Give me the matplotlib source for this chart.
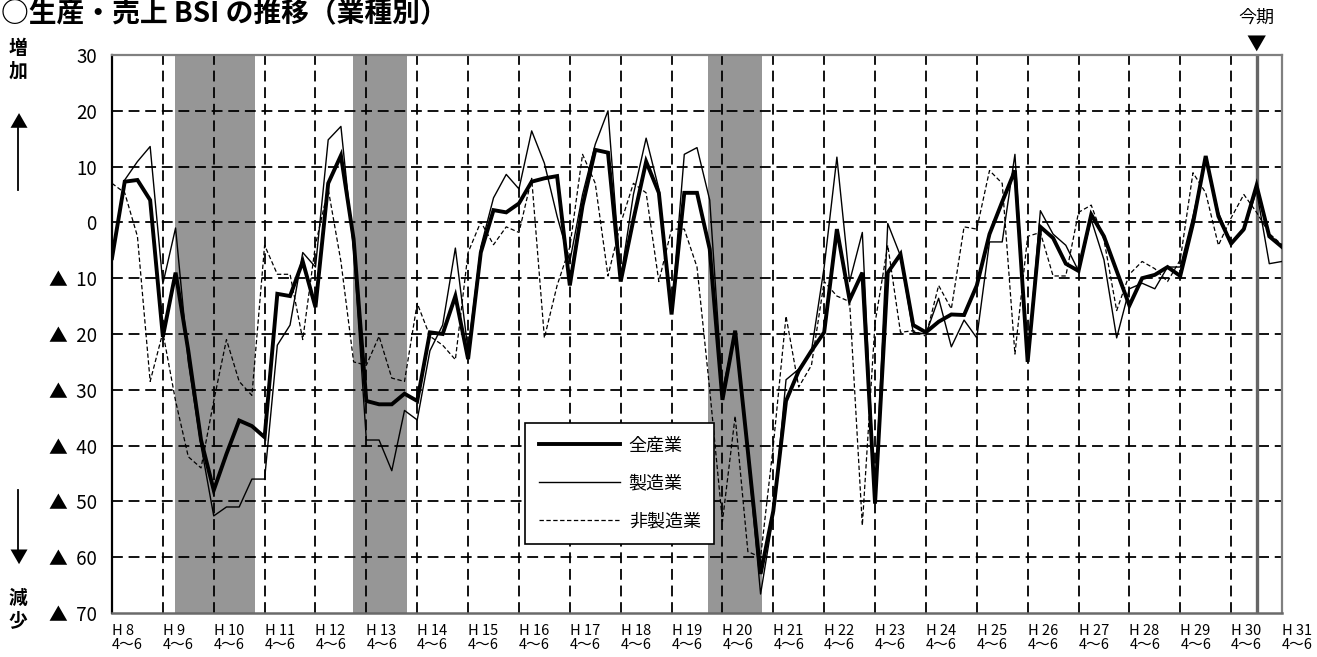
import matplotlib
matplotlib.use("Agg")
import matplotlib.pyplot as plt
from matplotlib.lines import Line2D

plt.rcParams['font.family'] = ['Noto Sans CJK JP', 'DejaVu Sans']

# ---- data -------------------------------------------------------------
years = ["8", "9", "10", "11", "12", "13", "14", "15", "16", "17", "18", "19",
         "20", "21", "22", "23", "24", "25", "26", "27", "28", "29", "30", "31"]
xtick_labels = [("H " + y) + "\n4～6" for y in years]

all_industry = [-6.4, 7.3, 7.6, 4.0, -20.5, -9, -23, -39, -48, -41.5,
                -35.5, -36.5, -38.5, -12.8, -13.2, -7, -15.2, 7, 12, -3,
                -32, -32.6, -32.6, -30.7, -32, -19.7, -20, -13.2, -24.5, -5.4,
                2.2, 1.8, 3.4, 7.3, 7.9, 8.3, -11.3, 3, 13, 12.5,
                -10.6, 0.5, 10.9, 5.3, -16.5, 5.3, 5.3, -4.8, -31.8, -19.4,
                -41, -63, -51.7, -32, -26.6, -23, -19.7, -1.2, -13.9, -9,
                -50.4, -9, -5.7, -18.4, -19.7, -17.8, -16.5, -16.6, -11.3, -2.1,
                3.7, 9.3, -25, -0.8, -2.8, -7.4, -8.7, 1.4, -2.5, -8.7,
                -14.9, -10, -9.4, -8, -9.6, -0.2, 11.9, 1.1, -3.8, -1.2,
                6.6, -2.5, -4.4]

manufacturing = [-6, 7.6, 10.9, 13.6, -11, -1, -25, -40, -52.6, -51,
                 -51, -46, -46, -22, -18.4, -5.4, -8, 14.8, 17.2, -5,
                 -39, -39, -44.5, -33.7, -35.4, -23, -18.4, -4.6, -23, -4.4,
                 4.4, 8.6, 6, 16.4, 10.6, 1.1, -7, 5, 14, 20,
                 -10, 5, 15.1, 6, -16, 12.2, 13.4, 4, -30, -20,
                 -41.6, -66.6, -52.6, -28.2, -26.3, -23, -8, 11.7, -10.6, -1.8,
                 -50, -0.2, -6, -19.7, -20, -13.6, -22.3, -17.5, -20.7, -3.5,
                 -3.5, 12.2, -25, 2.1, -2.1, -4.1, -8.7, 0.5, -6.7, -20.7,
                 -11.9, -10.9, -11.9, -8, -8, 1.1, 11.2, 1.8, -3.8, -1.5,
                 5.7, -7.4, -7]

non_manufacturing = [7, 5.3, -2.5, -28.5, -19.7, -32, -42, -44, -32, -21,
                     -28.5, -31, -4.1, -9.3, -9.3, -21, -4, 6, -7, -25,
                     -25.6, -20.4, -27.9, -28.5, -14.5, -20.4, -22, -24.6, -5.4, 0.1,
                     -4, -0.8, -1.8, 7.9, -20.7, -11.3, -4.4, 12.2, 7, -9.6,
                     -0.2, 7, 5.3, -10.6, -1.2, -1.2, -8, -30, -53.6, -34.7,
                     -59, -60, -40, -16.8, -29.5, -25.6, -10.6, -13.2, -14.2, -54.3,
                     -18, -4.1, -19.7, -19.4, -20.4, -11.3, -15.5, -0.8, -1.2, 9.3,
                     7, -23.6, -2.5, -1.8, -9.6, -9.6, 1.8, 3.1, -3.1, -15.8,
                     -9.3, -7, -8.3, -10.6, -6.7, 8.9, 5.3, -4.1, 0.8, 5,
                     1.8, -2, -4]

series_names = ["全産業", "製造業", "非製造業"]
ytick_values = [30, 20, 10, 0, -10, -20, -30, -40, -50, -60, -70]
ytick_labels = ["30", "20", "10", "0", "▲  10", "▲  20", "▲  30", "▲  40",
                "▲  50", "▲  60", "▲  70"]
recessions = [(4.95, 11.25), (18.95, 23.2), (46.85, 51.1)]
current_period = 90

# ---- figure -----------------------------------------------------------
W, H = 1317, 657
fig = plt.figure(figsize=(W / 100, H / 100), dpi=100)
L, R, T, B = 112, 1282, 55, 613
ax = fig.add_axes([L / W, 1 - B / H, (R - L) / W, (B - T) / H])

n = len(all_industry)
x = list(range(n))

for a, b in recessions:
    ax.axvspan(a, b, color='#969696', lw=0, zorder=0)

# grid
for v in ytick_values[:-1]:
    ax.axhline(v, color='black', lw=1.3, ls=(0, (6, 3.2)), zorder=1)
for i in range(4, n - 1, 4):
    ax.axvline(i, color='black', lw=1.3, ls=(0, (6, 3.2)), zorder=1)

ax.axvline(current_period, color='#666666', lw=2.4, zorder=2)

l1, = ax.plot(x, all_industry, color='black', lw=2.8, zorder=5,
              solid_joinstyle='miter')
l2, = ax.plot(x, manufacturing, color='black', lw=1.0, zorder=4)
l3, = ax.plot(x, non_manufacturing, color='black', lw=0.9,
              ls=(0, (3.5, 2)), zorder=3)

ax.set_xlim(0, n - 1)
ax.set_ylim(-70, 30)

ax.set_yticks(ytick_values)
ax.set_yticklabels(ytick_labels, fontsize=13.5)
ax.set_xticks(range(0, n, 4))
ax.set_xticklabels(xtick_labels, fontsize=10.5, ha='left', linespacing=0.95)
ax.tick_params(axis='y', length=0, pad=11)
ax.tick_params(axis='x', length=0, pad=8)

for s in ['top', 'right']:
    ax.spines[s].set_color('#808080')
    ax.spines[s].set_linewidth(1.6)
ax.spines['bottom'].set_color('#6a6a6a')
ax.spines['bottom'].set_linewidth(1.8)
ax.spines['left'].set_color('black')
ax.spines['left'].set_linewidth(1.6)

leg = ax.legend([l1, l2, l3], series_names, loc='upper left',
                bbox_to_anchor=((525 - L) / (R - L), (B - 423) / (B - T)),
                fontsize=13, frameon=True, fancybox=False, edgecolor='black',
                framealpha=1, handlelength=4.5, handletextpad=0.5,
                labelspacing=1.1, borderpad=0.75, borderaxespad=0)
leg.get_frame().set_linewidth(1.2)
leg.set_zorder(10)

# current period marker
ax.text(current_period, 31.9, "▼", ha='center', va='center', fontsize=14,
        clip_on=False)
ax.text(current_period, 36.6, "今期", ha='center', va='center', fontsize=13,
        clip_on=False)

# title
fig.text(1 / W, 1 - 14 / H, "○生産・売上 BSI の推移（業種別）",
         fontsize=20, weight='bold', ha='left', va='center')

# left side labels
for ch, yy in [("増", 49), ("加", 71), ("減", 598), ("少", 621)]:
    fig.text(18 / W, 1 - yy / H, ch, fontsize=13.5, weight='bold',
             ha='center', va='center')
fig.text(18 / W, 1 - 123 / H, "▲", fontsize=13, ha='center', va='center')
fig.add_artist(Line2D([18 / W, 18 / W], [1 - 128 / H, 1 - 190 / H],
                      color='black', lw=1.3, transform=fig.transFigure))
fig.add_artist(Line2D([18 / W, 18 / W], [1 - 490 / H, 1 - 553 / H],
                      color='black', lw=1.3, transform=fig.transFigure))
fig.text(18 / W, 1 - 558 / H, "▼", fontsize=13, ha='center', va='center')

fig.savefig("out.png", dpi=100)
